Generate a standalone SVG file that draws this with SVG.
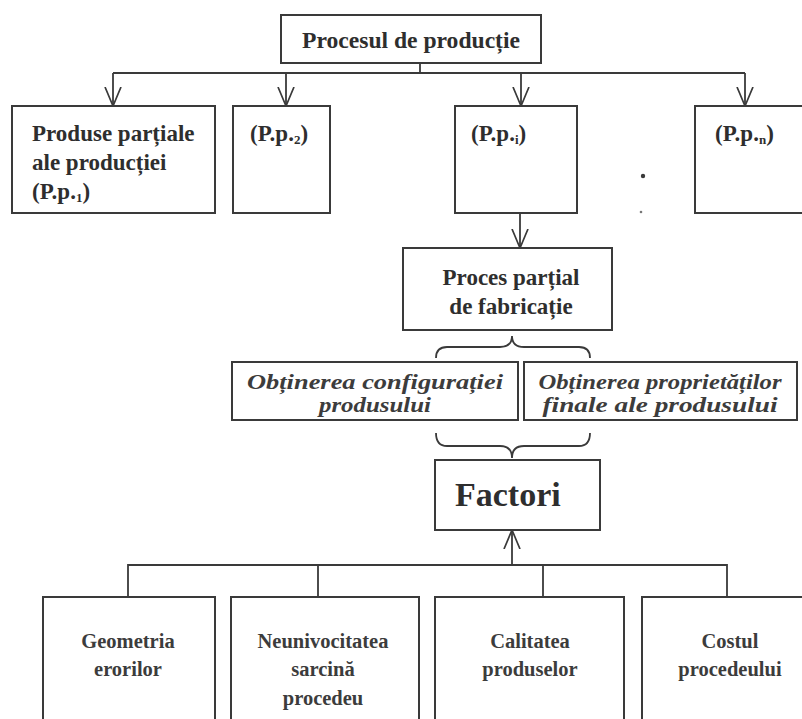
<svg xmlns="http://www.w3.org/2000/svg" width="802" height="719" viewBox="0 0 802 719">
  <defs>
    <style>
      .box { fill: #fff; stroke: #3a3a3a; stroke-width: 2; }
      .ln { fill: none; stroke: #3a3a3a; stroke-width: 1.8; }
      .t { font-family: "Liberation Serif", "Times New Roman", serif; fill: #2e2e2e; font-weight: bold; }
      .i { font-style: italic; }
      .f { fill: #3c3c3c; }
    </style>
    <!-- open V arrowhead, tip at the end of the line -->
    <marker id="open" viewBox="0 0 20 18" refX="19" refY="9" markerWidth="20" markerHeight="18" markerUnits="userSpaceOnUse" orient="auto">
      <path d="M0,1 L19,9 L0,17" fill="none" stroke="#3a3a3a" stroke-width="1.7"/>
    </marker>
  </defs>
  <rect width="802" height="719" fill="#fff"/>

  <!-- connectors -->
  <g id="connectors">
    <path class="ln" d="M420,63 V73 M113,73 H745"/>
    <path class="ln" d="M113,73 V106" marker-end="url(#open)"/>
    <path class="ln" d="M286,73 V106" marker-end="url(#open)"/>
    <path class="ln" d="M521,73 V106" marker-end="url(#open)"/>
    <path class="ln" d="M745,73 V106" marker-end="url(#open)"/>
    <path class="ln" d="M520,213 V248" marker-end="url(#open)"/>
    <!-- brace below the partial process -->
    <path class="ln" d="M436,358 Q436,347 447,347 H500 Q512,347 512,336 Q512,347 524,347 H579 Q590,347 590,358"/>
    <!-- brace above the factors -->
    <path class="ln" d="M436,433 Q436,446 447,446 H500 Q512,446 512,458 Q512,446 524,446 H579 Q590,446 590,433"/>
    <!-- factor inputs -->
    <path class="ln" d="M128,597 V565 H727 V597 M318,565 V597 M543,565 V597"/>
    <path class="ln" d="M512,565 V530" marker-end="url(#open)"/>
  </g>

  <g id="procesul">
    <rect class="box" x="281" y="15" width="260" height="48"/>
    <text class="t" x="411" y="48" font-size="24" text-anchor="middle" textLength="218" lengthAdjust="spacingAndGlyphs">Procesul de producție</text>
  </g>

  <g id="pp1">
    <rect class="box" x="12" y="106" width="203" height="107"/>
    <text class="t" x="32" y="141" font-size="23">Produse parțiale</text>
    <text class="t" x="32" y="170" font-size="23">ale producției</text>
    <text class="t" x="32" y="199" font-size="23">(P.p.<tspan font-size="13" dy="3">1</tspan><tspan dy="-3">)</tspan></text>
  </g>

  <g id="pp2">
    <rect class="box" x="233" y="106" width="97" height="107"/>
    <text class="t" x="250" y="141" font-size="23">(P.p.<tspan font-size="13" dy="3">2</tspan><tspan dy="-3">)</tspan></text>
  </g>

  <g id="ppi">
    <rect class="box" x="455" y="106" width="122" height="107"/>
    <text class="t" x="471" y="141" font-size="23">(P.p.<tspan font-size="13" dy="3">i</tspan><tspan dy="-3">)</tspan></text>
  </g>

  <g id="ppn">
    <rect class="box" x="695" y="106" width="120" height="107"/>
    <text class="t" x="715" y="141" font-size="23">(P.p.<tspan font-size="13" dy="3">n</tspan><tspan dy="-3">)</tspan></text>
  </g>

  <g id="ellipsis">
    <circle cx="643" cy="176" r="2.2" fill="#3a3a3a"/>
    <circle cx="641" cy="212" r="1.3" fill="#777"/>
  </g>

  <g id="proces-partial">
    <rect class="box" x="403" y="248" width="209" height="82"/>
    <text class="t" x="511" y="285" font-size="23" text-anchor="middle">Proces parțial</text>
    <text class="t" x="511" y="314" font-size="23" text-anchor="middle">de fabricație</text>
  </g>

  <g id="configuratie">
    <rect class="box" x="232" y="362" width="286" height="58"/>
    <text class="t i f" x="375" y="389" font-size="21" text-anchor="middle" textLength="256" lengthAdjust="spacingAndGlyphs">Obținerea configurației</text>
    <text class="t i f" x="375" y="412" font-size="21" text-anchor="middle" textLength="112" lengthAdjust="spacingAndGlyphs">produsului</text>
  </g>

  <g id="proprietati">
    <rect class="box" x="524" y="362" width="273" height="58"/>
    <text class="t i f" x="660" y="389" font-size="21" text-anchor="middle" textLength="243" lengthAdjust="spacingAndGlyphs">Obținerea proprietăților</text>
    <text class="t i f" x="660" y="412" font-size="21" text-anchor="middle" textLength="235" lengthAdjust="spacingAndGlyphs">finale ale produsului</text>
  </g>

  <g id="factori">
    <rect class="box" x="435" y="460" width="165" height="70"/>
    <text class="t" x="455" y="506" font-size="34">Factori</text>
  </g>

  <g id="geometria">
    <rect class="box" x="43" y="597" width="172" height="140"/>
    <text class="t f" x="128" y="648" font-size="20.5" text-anchor="middle">Geometria</text>
    <text class="t f" x="128" y="676" font-size="20.5" text-anchor="middle">erorilor</text>
  </g>

  <g id="neunivocitatea">
    <rect class="box" x="231" y="597" width="188" height="140"/>
    <text class="t f" x="323" y="648" font-size="20.5" text-anchor="middle">Neunivocitatea</text>
    <text class="t f" x="323" y="676" font-size="20.5" text-anchor="middle">sarcină</text>
    <text class="t f" x="323" y="705" font-size="20.5" text-anchor="middle">procedeu</text>
  </g>

  <g id="calitatea">
    <rect class="box" x="435" y="597" width="189" height="140"/>
    <text class="t f" x="530" y="648" font-size="20.5" text-anchor="middle">Calitatea</text>
    <text class="t f" x="530" y="676" font-size="20.5" text-anchor="middle">produselor</text>
  </g>

  <g id="costul">
    <rect class="box" x="642" y="597" width="175" height="140"/>
    <text class="t f" x="730" y="648" font-size="20.5" text-anchor="middle">Costul</text>
    <text class="t f" x="730" y="676" font-size="20.5" text-anchor="middle">procedeului</text>
  </g>
</svg>
